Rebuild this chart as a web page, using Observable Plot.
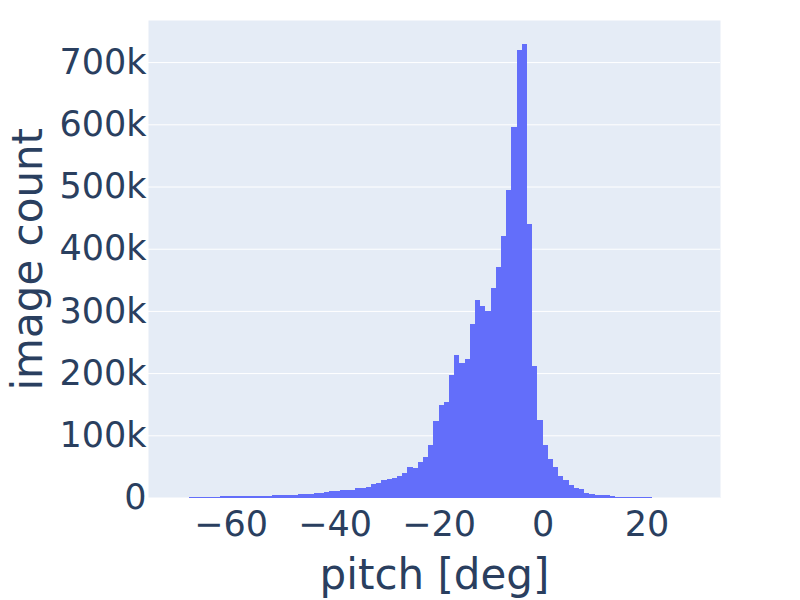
<!DOCTYPE html>
<html>
<head>
<meta charset="utf-8">
<script src="https://cdn.jsdelivr.net/npm/d3@7"></script>
<script src="https://cdn.jsdelivr.net/npm/@observablehq/plot@0.6"></script>
<style>
  html, body { margin: 0; padding: 0; background: #ffffff; }
  #chart { width: 800px; height: 600px; }
</style>
</head>
<body>
<div id="chart"></div>
<script>
// Histogram bins: left edge of each 1-degree pitch bin
const binWidth = 1;
const binStart = [
  -68, -67, -66, -65, -64, -63, -62, -61, -60, -59,
  -58, -57, -56, -55, -54, -53, -52, -51, -50, -49,
  -48, -47, -46, -45, -44, -43, -42, -41, -40, -39,
  -38, -37, -36, -35, -34, -33, -32, -31, -30, -29,
  -28, -27, -26, -25, -24, -23, -22, -21, -20, -19,
  -18, -17, -16, -15, -14, -13, -12, -11, -10, -9,
  -8, -7, -6, -5, -4, -3, -2, -1, 0, 1,
  2, 3, 4, 5, 6, 7, 8, 9, 10, 11,
  12, 13, 14, 15, 16, 17, 18, 19, 20
];
// Image counts per bin (thousands)
const countK = [
  1.0, 1.0, 1.0, 1.0, 1.0, 1.0, 2.4, 2.4, 2.4, 2.4,
  2.4, 2.4, 2.4, 2.4, 2.4, 2.4, 4.0, 4.0, 4.0, 4.0,
  4.0, 5.6, 5.6, 5.6, 7.2, 7.2, 8.8, 10.4, 10.4, 12.0,
  12.0, 12.0, 15.3, 15.3, 16.9, 21.0, 23.5, 28.0, 29.7, 31.4,
  34.6, 39.4, 49.0, 47.4, 57.0, 65.0, 84.4, 123.0, 148.7, 153.5,
  197.0, 229.0, 216.0, 222.7, 279.0, 317.5, 308.0, 299.8, 336.8, 370.6,
  420.4, 494.4, 595.6, 719.5, 729.0, 439.7, 211.4, 124.6, 84.4, 61.9,
  49.0, 34.6, 28.1, 20.1, 15.3, 13.7, 7.2, 5.6, 4.0, 4.0,
  4.0, 2.4, 1.2, 1.2, 1.2, 1.2, 1.2, 1.2, 1.2
];
const xTicks = [-60, -40, -20, 0, 20];
const yTicks = [0, 100000, 200000, 300000, 400000, 500000, 600000, 700000];
const xTitle = "pitch [deg]";
const yTitle = "image count";

const data = binStart.map((b, i) => ({x1: b, x2: b + binWidth, count: countK[i] * 1000}));

const ink = "#2a3f5f";
const chart = Plot.plot({
  width: 800,
  height: 600,
  marginLeft: 148,
  marginRight: 80,
  marginTop: 20,
  marginBottom: 102.5,
  style: {fontFamily: "'DejaVu Sans', sans-serif", color: ink, background: "#ffffff"},
  x: {domain: [-75.87, 34.13]},
  y: {domain: [0, 767700]},
  marks: [
    Plot.frame({fill: "#E5ECF6", stroke: null}),
    Plot.gridY(yTicks, {stroke: "#ffffff", strokeOpacity: 1, strokeWidth: 1}),
    Plot.rectY(data, {x1: "x1", x2: "x2", y: "count", fill: "#636EFA", inset: 0, shapeRendering: "crispEdges"}),
    Plot.axisX(xTicks, {tickSize: 0, tickPadding: 13, fontSize: 35, label: null, tickFormat: d3.format("")}),
    Plot.axisY(yTicks, {tickSize: 0, tickPadding: 2, fontSize: 35, label: null, tickFormat: d3.format("~s")}),
    Plot.text([xTitle], {text: d => d, frameAnchor: "bottom", lineAnchor: "bottom", dy: 91, fontSize: 42, fill: ink}),
    Plot.text([yTitle], {text: d => d, frameAnchor: "left", textAnchor: "middle", lineAnchor: "middle", rotate: -90, dx: -119.7, fontSize: 42, fill: ink})
  ]
});
document.getElementById("chart").appendChild(chart);
</script>
</body>
</html>
